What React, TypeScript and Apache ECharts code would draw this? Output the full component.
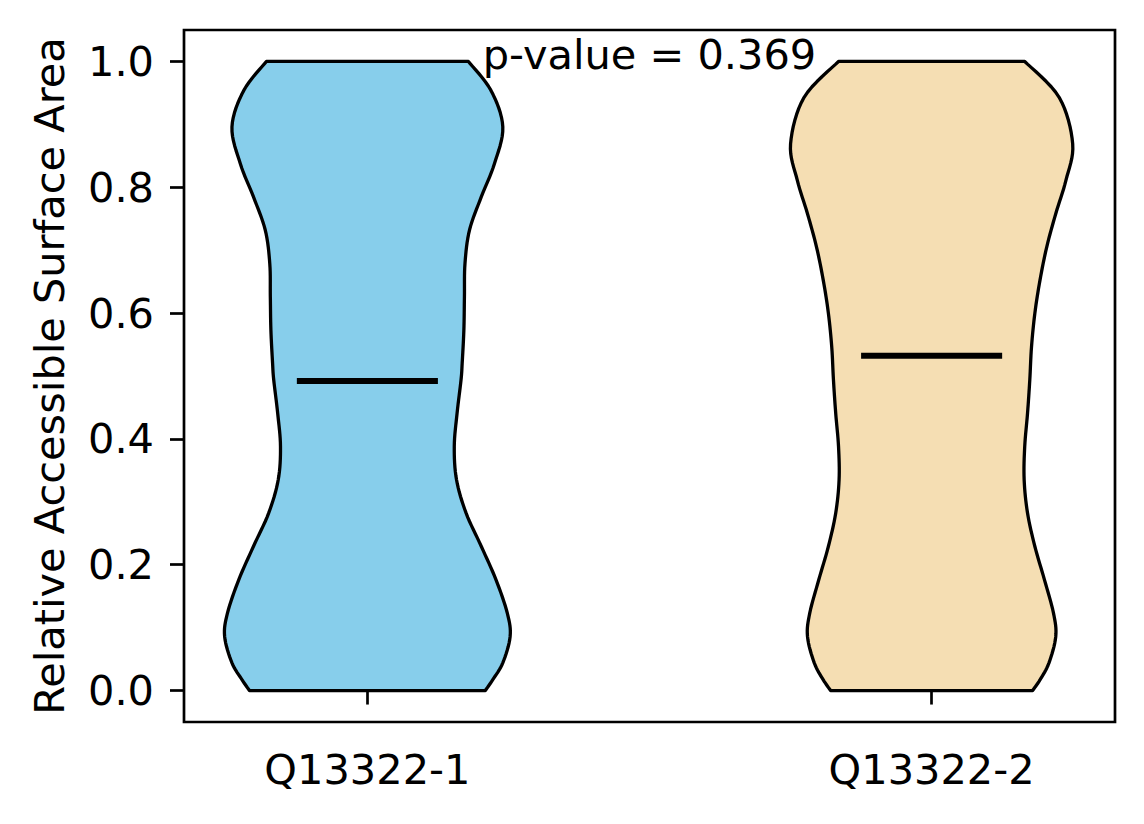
import React, { useEffect, useRef } from "react";
import * as echarts from "echarts";

const categories = ["Q13322-1", "Q13322-2"];
const positions = [1, 2];
const colors = ["#87CEEB", "#F5DEB3"];
const means = [0.492, 0.532];
const pValueText = "p-value = 0.369";
const yTicks = [0, 0.2, 0.4, 0.6, 0.8, 1.0];

// Violin 1 (Q13322-1): y levels and half-widths (x-axis units)
const ys1 = [0, 0.017, 0.044, 0.086, 0.123, 0.176, 0.229, 0.282, 0.335, 0.388, 0.441, 0.494, 0.52, 0.573, 0.626, 0.679, 0.732, 0.785, 0.837, 0.896, 0.954, 1.0];
const hw1 = [0.209, 0.222, 0.24, 0.253, 0.248, 0.228, 0.202, 0.175, 0.158, 0.154, 0.159, 0.166, 0.168, 0.171, 0.172, 0.173, 0.181, 0.202, 0.225, 0.24, 0.219, 0.179];

// Violin 2 (Q13322-2)
const ys2 = [0, 0.017, 0.044, 0.086, 0.123, 0.176, 0.229, 0.282, 0.335, 0.388, 0.441, 0.494, 0.546, 0.6, 0.652, 0.705, 0.758, 0.811, 0.869, 0.943, 1.0];
const hw2 = [0.179, 0.192, 0.208, 0.22, 0.216, 0.2, 0.183, 0.17, 0.164, 0.165, 0.17, 0.174, 0.177, 0.183, 0.192, 0.204, 0.22, 0.238, 0.25, 0.226, 0.165];

const FONT = "DejaVu Sans";
const FS = 41.5;

function catmull(pts: number[][], sub = 8): number[][] {
  const out: number[][] = [];
  const n = pts.length;
  for (let i = 0; i < n - 1; i++) {
    const p0 = pts[Math.max(0, i - 1)];
    const p1 = pts[i];
    const p2 = pts[i + 1];
    const p3 = pts[Math.min(n - 1, i + 2)];
    for (let s = 0; s < sub; s++) {
      const t = s / sub;
      const t2 = t * t;
      const t3 = t2 * t;
      const f = (a: number, b: number, c: number, d: number) =>
        0.5 * (2 * b + (-a + c) * t + (2 * a - 5 * b + 4 * c - d) * t2 + (-a + 3 * b - 3 * c + d) * t3);
      out.push([f(p0[0], p1[0], p2[0], p3[0]), f(p0[1], p1[1], p2[1], p3[1])]);
    }
  }
  out.push(pts[n - 1]);
  return out;
}

function violinSeries(pos: number, ys: number[], hws: number[], fill: string) {
  return {
    type: "custom",
    coordinateSystem: "cartesian2d",
    data: [[pos, 0]],
    clip: false,
    z: 2,
    renderItem: (_params: any, api: any) => {
      const right = ys.map((y, i) => api.coord([pos + hws[i], y]));
      const left = ys.map((y, i) => api.coord([pos - hws[i], y]));
      const r = catmull(right);
      const l = catmull(left).reverse();
      return {
        type: "polygon",
        shape: { points: [...r, ...l] },
        style: { fill, stroke: "#000", lineWidth: 3.3, lineJoin: "round" },
      };
    },
  };
}

export default function App() {
  const ref = useRef<HTMLDivElement>(null);
  useEffect(() => {
    if (!ref.current) return;
    const chart = echarts.init(ref.current, undefined, { renderer: "svg" });
    const option: any = {
      animation: false,
      backgroundColor: "#fff",
      grid: {
        left: 184,
        right: 29,
        top: 30,
        bottom: 102,
        show: true,
        borderColor: "#000",
        borderWidth: 2.7,
        backgroundColor: "transparent",
      },
      xAxis: {
        type: "value",
        min: 0.675,
        max: 2.325,
        splitLine: { show: false },
        axisLine: { show: false },
        axisTick: {
          show: true,
          customValues: positions,
          length: 14,
          lineStyle: { color: "#000", width: 2.7 },
        },
        axisLabel: {
          customValues: positions,
          formatter: (v: number) => categories[Math.round(v) - 1] ?? "",
          fontFamily: FONT,
          fontSize: FS,
          color: "#000",
          margin: 26,
        },
      },
      yAxis: {
        type: "value",
        min: -0.05,
        max: 1.05,
        splitLine: { show: false },
        axisLine: { show: false },
        axisTick: {
          show: true,
          customValues: yTicks,
          length: 14,
          lineStyle: { color: "#000", width: 2.7 },
        },
        axisLabel: {
          customValues: yTicks,
          formatter: (v: number) => v.toFixed(1),
          fontFamily: FONT,
          fontSize: FS,
          color: "#000",
          margin: 30,
        },
        name: "Relative Accessible Surface Area",
        nameLocation: "middle",
        nameGap: 114,
        nameTextStyle: { fontFamily: FONT, fontSize: FS, color: "#000" },
      },
      series: [
        violinSeries(positions[0], ys1, hw1, colors[0]),
        violinSeries(positions[1], ys2, hw2, colors[1]),
        {
          type: "custom",
          coordinateSystem: "cartesian2d",
          data: positions.map((p, i) => [p, means[i]]),
          z: 3,
          renderItem: (_params: any, api: any) => {
            const x = api.value(0);
            const y = api.value(1);
            const a = api.coord([x - 0.125, y]);
            const b = api.coord([x + 0.125, y]);
            return {
              type: "line",
              shape: { x1: a[0], y1: a[1], x2: b[0], y2: b[1] },
              style: { stroke: "#000", lineWidth: 6 },
            };
          },
        },
        {
          type: "custom",
          coordinateSystem: "cartesian2d",
          data: [[1.5, 1.011]],
          z: 4,
          clip: false,
          renderItem: (_params: any, api: any) => {
            const c = api.coord([api.value(0), api.value(1)]);
            return {
              type: "text",
              x: c[0],
              y: c[1],
              style: {
                text: pValueText,
                fontFamily: FONT,
                fontSize: FS,
                fill: "#000",
                align: "center",
                verticalAlign: "middle",
              },
            };
          },
        },
      ],
    };
    chart.setOption(option);
    return () => chart.dispose();
  }, []);
  return (
    <div
      ref={ref}
      style={{ position: "fixed", left: 0, top: 0, width: 1144, height: 824, background: "#fff" }}
    />
  );
}
